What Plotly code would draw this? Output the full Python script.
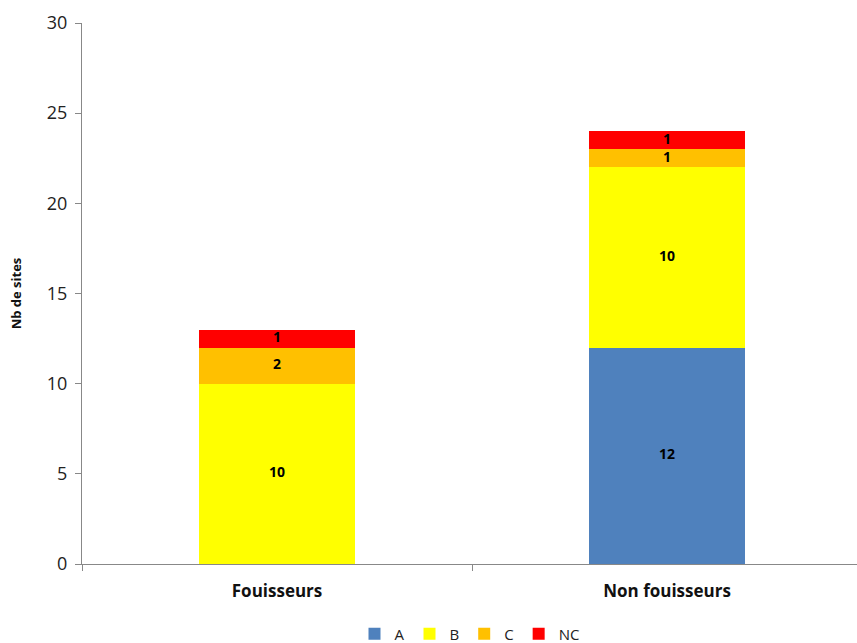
import plotly.graph_objects as go

categories = ["Fouisseurs", "Non fouisseurs"]
series_names = ["A", "B", "C", "NC"]
values_A = [0, 12]
values_B = [10, 10]
values_C = [2, 1]
values_NC = [1, 1]
colors = ["#4F81BD", "#FFFF00", "#FFC000", "#FF0000"]
y_ticks = [0, 5, 10, 15, 20, 25, 30]

series = [values_A, values_B, values_C, values_NC]

fig = go.Figure()
for name, vals, col in zip(series_names, series, colors):
    fig.add_trace(go.Bar(
        x=categories, y=vals, name=name, marker=dict(color=col, line=dict(width=0)),
        width=0.4, hoverinfo="y+name",
    ))

# labels at segment centres, computed from the data
base = [0] * len(categories)
for vals in series:
    mids = [b + v / 2 for b, v in zip(base, vals)]
    fig.add_trace(go.Scatter(
        x=categories, y=mids, mode="text",
        text=[str(v) if v else "" for v in vals], textposition="middle center",
        textfont=dict(family="Open Sans", size=14, color="black", weight="bold"),
        showlegend=False, hoverinfo="skip",
    ))
    base = [b + v for b, v in zip(base, vals)]

fig.update_layout(
    barmode="stack",
    width=857, height=643,
    margin=dict(l=82, r=0, t=23, b=79),
    plot_bgcolor="white", paper_bgcolor="white",
    font=dict(family="Open Sans", color="#222"),
    legend=dict(orientation="h", x=0.5, xanchor="center", yref="container", y=0.014, yanchor="middle",
                font=dict(size=15, family="Open Sans", color="#222"),
                traceorder="normal"),
    xaxis=dict(range=[-0.5, 1.487], showline=True, linecolor="#888", linewidth=1,
               ticks="outside", tickson="boundaries", ticklen=6, tickcolor="#888",
               tickfont=dict(size=17, family="Open Sans", color="#111", weight="bold"),
               ticklabelstandoff=12, showgrid=False),
    yaxis=dict(range=[0, 30], tickvals=y_ticks, showline=True, linecolor="#888", linewidth=1,
               ticks="outside", ticklen=6, tickcolor="#888", showgrid=False, zeroline=False,
               tickfont=dict(size=18, family="Open Sans", color="#222"),
               ticklabelstandoff=4,
               title=dict(text="Nb de sites", font=dict(size=13, family="Open Sans", color="#111", weight="bold"), standoff=22)),
)

fig.write_html("out.html")
